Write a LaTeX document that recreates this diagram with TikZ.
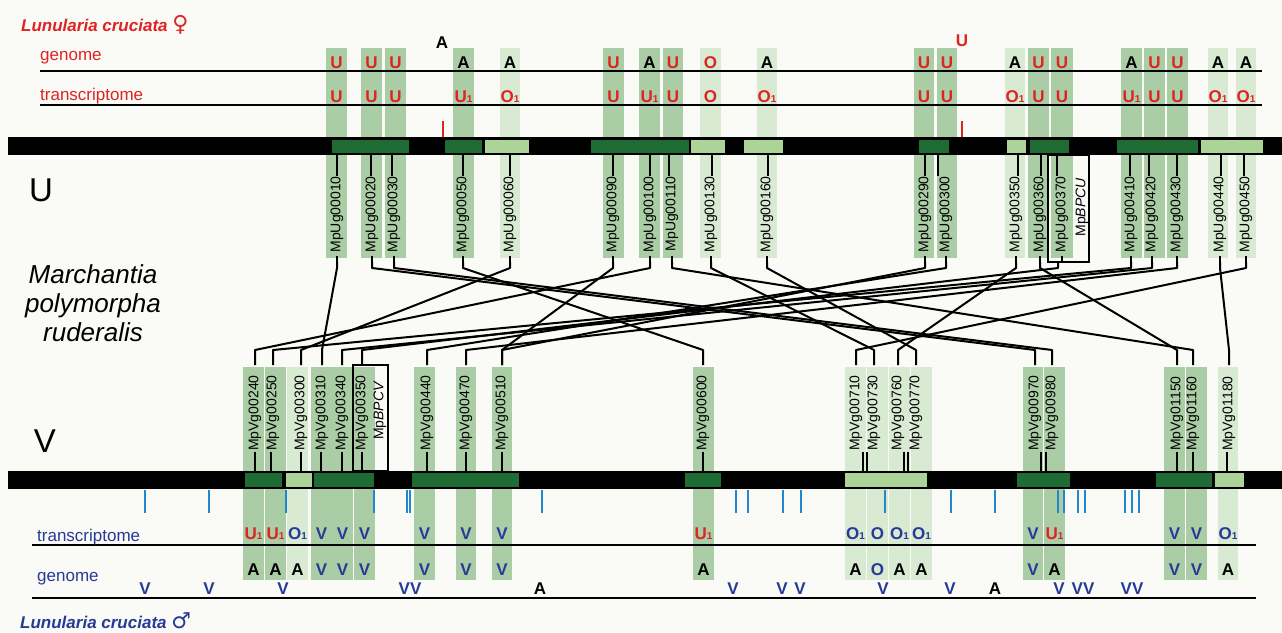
\documentclass[tikz,border=0pt]{standalone}
\usepackage{fontspec}
\setmainfont{Liberation Sans}
\newfontfamily\symf{DejaVu Sans}
\definecolor{redc}{RGB}{222,35,35}
\definecolor{bluec}{RGB}{38,58,150}
\definecolor{tickblue}{RGB}{35,135,205}
\definecolor{darkg}{RGB}{30,108,52}
\definecolor{lightg}{RGB}{172,212,152}
\definecolor{colm}{RGB}{170,205,165}
\definecolor{coll}{RGB}{216,234,210}
\definecolor{bgc}{RGB}{250,250,247}
\newcommand\smallone{{\fontsize{10}{10}\selectfont 1}}
\newcommand\lUr{\textcolor{redc}{U}}
\newcommand\lUone{\textcolor{redc}{U\smallone}}
\newcommand\lOr{\textcolor{redc}{O}}
\newcommand\lOone{\textcolor{redc}{O\smallone}}
\newcommand\lAk{\textcolor{black}{A}}
\newcommand\lVb{\textcolor{bluec}{V}}
\newcommand\lOb{\textcolor{bluec}{O}}
\newcommand\lObone{\textcolor{bluec}{O\smallone}}
\begin{document}
\begin{tikzpicture}[x=1pt,y=-1pt,
  gl/.style={font=\fontsize{14}{14}\selectfont, rotate=90, inner sep=0pt},
  lt/.style={font=\bfseries\fontsize{17}{17}\selectfont, inner sep=0pt, anchor=base},
  conn/.style={line width=2pt, line join=round},
  gtick/.style={line width=2pt},
  rowline/.style={line width=1.5pt},
  dbox/.style={fill=darkg},
  lbox/.style={fill=lightg},
  btick/.style={draw=tickblue, line width=1.4pt},
  rtick/.style={draw=redc, line width=1.4pt},
  rowlab/.style={font=\fontsize{17}{17}\selectfont, inner sep=0pt, anchor=base west}]
\fill[bgc] (0,0) rectangle (1282,632);
\useasboundingbox (0,0) rectangle (1282,632);

% ---------------- U side ----------------
\def\Ulist{010/337/337/326/347/colm/\lUr/\lUr,
020/372/371/361/382/colm/\lUr/\lUr,
030/394/392/385/406/colm/\lUr/\lUr,
050/463/463/453/474/colm/\lAk/\lUone,
060/510/510/500/520/coll/\lAk/\lOone,
090/613/613/603/624/colm/\lUr/\lUr,
100/650/650/639/660/colm/\lAk/\lUone,
110/672/669/663/683/colm/\lUr/\lUr,
130/711/712/700/721/coll/\lOr/\lOr,
160/767/768/757/777/coll/\lAk/\lOone,
290/925/925/914/934/colm/\lUr/\lUr,
300/946/938/937/957/colm/\lUr/\lUr,
350/1016/1018/1005/1025/coll/\lAk/\lOone,
360/1040/1041/1028/1049/colm/\lUr/\lUr,
370/1062/1057/1051/1073/colm/\lUr/\lUr,
410/1131/1130/1121/1142/colm/\lAk/\lUone,
420/1152/1149/1144/1165/colm/\lUr/\lUr,
430/1177/1177/1167/1188/colm/\lUr/\lUr,
440/1220/1221/1208/1228/coll/\lAk/\lOone,
450/1246/1244/1236/1256/coll/\lAk/\lOone}

\foreach \n/\lx/\tx/\ca/\cb/\sh/\g/\t in \Ulist {
  \fill[\sh] (\ca,48) rectangle (\cb,258);
}
\draw[rowline] (40,71) -- (1262,71);
\draw[rowline] (40,105) -- (1262,105);
\node[rowlab, text=redc] (ugen) at (40,60) {genome};
\node[rowlab, text=redc] (utr) at (40,100) {transcriptome};
\node[font=\bfseries\itshape\fontsize{17}{17}\selectfont, text=redc, anchor=base west, inner sep=0pt] (lcf) at (21,31) {Lunularia cruciata {\symf\bfseries\fontsize{22}{22}\selectfont\char"2640}};

% U chromosome bar
\fill (8,137) rectangle (1282,155);
\fill[dbox] (332,140) rectangle (409,153);
\fill[dbox] (445,140) rectangle (482,153);
\fill[lbox] (485,140) rectangle (529,153);
\fill[dbox] (591,140) rectangle (689,153);
\fill[lbox] (691,140) rectangle (725,153);
\fill[lbox] (744,140) rectangle (783,153);
\fill[dbox] (919,140) rectangle (949,153);
\fill[lbox] (1007,140) rectangle (1026,153);
\fill[dbox] (1030,140) rectangle (1069,153);
\fill[dbox] (1117,140) rectangle (1198,153);
\fill[lbox] (1201,140) rectangle (1263,153);

\draw[rtick] (443,121) -- (443,137);
\draw[rtick] (962,121) -- (962,137);
\node[lt] (xa) at (442,48) {\lAk};
\node[lt] (xu) at (962,46) {\lUr};

\foreach \n/\lx/\tx/\ca/\cb/\sh/\g/\t in \Ulist {
  \pgfmathsetmacro\cc{(\ca+\cb)/2}
  \node[lt] (ug\n) at (\cc,68) {\g};
  \node[lt] (ut\n) at (\cc,102) {\t};
  \draw[gtick] (\tx,155) -- (\tx,176);
  \node[gl, anchor=east] (lu\n) at (\lx,176) {MpUg00\n};
  \draw[gtick] (\lx,256) -- (\lx,262);
  \coordinate (u\n) at (\lx,268);
}
\node[gl, anchor=east] (bpcu) at (1082,178) {Mp\textit{BPCU}};
\draw[line width=2pt] (1048,155) rectangle (1089,262);
\coordinate (ubox) at (1058,268);

\node[font=\fontsize{33}{33}\selectfont, inner sep=0pt] (bigu) at (41,190) {U};
\node[font=\itshape\fontsize{26}{29}\selectfont, align=center, inner sep=0pt] (mpr) at (93,303) {Marchantia\\polymorpha\\ruderalis};
\node[font=\fontsize{33}{33}\selectfont, inner sep=0pt] (bigv) at (45,441) {V};

% ---------------- V side ----------------
\def\Vlist{0240/255/255/243/264/colm/\lUone/\lAk,
0250/273/271/265/286/colm/\lUone/\lAk,
0300/301/301/287/308/coll/\lObone/\lAk,
0310/322/321/311/332/colm/\lVb/\lVb,
0340/342/342/332/353/colm/\lVb/\lVb,
0350/362/362/354/375/colm/\lVb/\lVb,
0440/427/427/414/435/colm/\lVb/\lVb,
0470/466/466/456/476/colm/\lVb/\lVb,
0510/502/502/492/512/colm/\lVb/\lVb,
0600/703/703/693/714/colm/\lUone/\lAk,
0710/856/863/845/866/coll/\lObone/\lAk,
0730/874/867/867/888/coll/\lOb/\lOb,
0760/898/904/889/910/coll/\lObone/\lAk,
0770/916/908/911/932/coll/\lObone/\lAk,
0970/1035/1041/1023/1043/colm/\lVb/\lVb,
0980/1052/1046/1044/1065/colm/\lUone/\lAk,
1150/1177/1177/1164/1185/colm/\lVb/\lVb,
1160/1193/1193/1186/1207/colm/\lVb/\lVb,
1180/1229/1227/1218/1238/coll/\lObone/\lAk}

\foreach \n/\lx/\tx/\ca/\cb/\sh/\t/\g in \Vlist {
  \fill[\sh] (\ca,367) rectangle (\cb,580);
}
\draw[rowline] (32,545) -- (1256,545);
\draw[rowline] (32,598) -- (1256,598);
\node[rowlab, text=bluec] (vtr) at (37,541) {transcriptome};
\node[rowlab, text=bluec] (vgen) at (37,581) {genome};
\node[font=\bfseries\itshape\fontsize{17}{17}\selectfont, text=bluec, anchor=base west, inner sep=0pt] (lcm) at (20,628) {Lunularia cruciata {\symf\bfseries\fontsize{22}{22}\selectfont\char"2642}};

% V chromosome bar
\fill (8,471) rectangle (1282,489);
\fill[dbox] (245,473) rectangle (282,487);
\fill[lbox] (286,473) rectangle (312,487);
\fill[dbox] (314,473) rectangle (374,487);
\fill[dbox] (412,473) rectangle (519,487);
\fill[dbox] (685,473) rectangle (721,487);
\fill[lbox] (845,473) rectangle (927,487);
\fill[dbox] (1017,473) rectangle (1070,487);
\fill[dbox] (1156,473) rectangle (1212,487);
\fill[lbox] (1215,473) rectangle (1244,487);

\foreach \x in {145,209,286,374,407,410,542,736,748,783,801,885,951,995,1058,1064,1078,1085,1125,1132,1139}
  \draw[btick] (\x,490) -- (\x,513);

\foreach \n/\lx/\tx/\ca/\cb/\sh/\t/\g in \Vlist {
  \pgfmathsetmacro\cc{(\ca+\cb)/2}
  \node[lt] (vt\n) at (\cc,539) {\t};
  \node[lt] (vg\n) at (\cc,575) {\g};
  \draw[gtick] (\tx,452) -- (\tx,471);
  \node[gl, anchor=west] (lv\n) at (\lx,451) {MpVg0\n};
  \coordinate (v\n) at (\lx,350);
}
\draw[line width=2pt] (353,365) rectangle (388,471);
\node[gl, anchor=east] (bpcv) at (380,381) {Mp\textit{BPCV}};
\coordinate (vbox) at (362,350);

\foreach \x/\s [count=\i] in {145/\lVb,209/\lVb,283/\lVb,410/{\lVb\lVb},540/\lAk,733/\lVb,782/\lVb,800/\lVb,883/\lVb,950/\lVb,995/\lAk,1059/\lVb,1083/{\lVb\lVb},1132/{\lVb\lVb}}
  \node[lt] (xv\i) at (\x,594) {\s};

% ---------------- connectors ----------------
\foreach \a/\b in {010/0310,020/0970,030/0980,050/0600,060/0300,090/0510,100/0240,110/1160,130/0730,160/0770,290/0510,300/0440,350/0760,360/1150,410/0250,420/0340,430/0470,440/1180,450/0710}
  \draw[conn] (u\a) ++(0,-6) -- (u\a) -- (v\b) -- ++(0,15);
\draw[conn] (1058,262) -- (ubox) -- (vbox) -- (362,365);
\end{tikzpicture}
\end{document}
